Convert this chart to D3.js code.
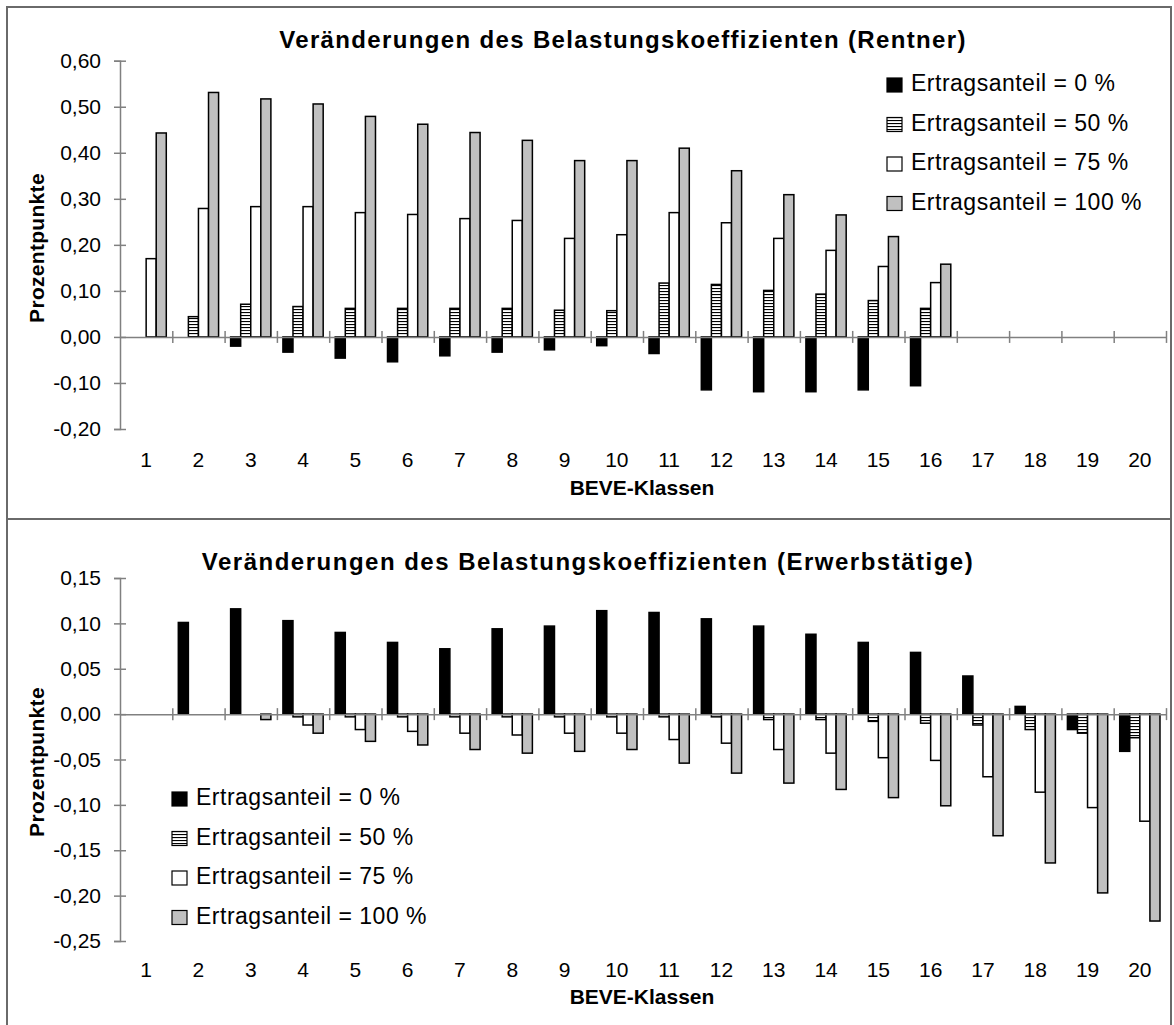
<!DOCTYPE html>
<html>
<head>
<meta charset="utf-8">
<script src="https://cdn.jsdelivr.net/npm/d3@7"></script>
<style>
  html, body { margin: 0; padding: 0; background: #fff; }
  svg { display: block; }
  text { font-family: "Liberation Sans", Arial, sans-serif; fill: #000; }
</style>
</head>
<body>
<svg id="chart" width="1174" height="1025"></svg>
<script>
// ---------- data ----------
const categories = ["1","2","3","4","5","6","7","8","9","10","11","12","13","14","15","16","17","18","19","20"];
const seriesNames = ["Ertragsanteil = 0 %", "Ertragsanteil = 50 %", "Ertragsanteil = 75 %", "Ertragsanteil = 100 %"];

// Rentner
const rentner0   = [0, 0, -0.020, -0.033, -0.046, -0.054, -0.041, -0.033, -0.028, -0.019, -0.036, -0.115, -0.119, -0.119, -0.115, -0.106, null, null, null, null];
const rentner50  = [0, 0.044, 0.071, 0.066, 0.062, 0.062, 0.062, 0.062, 0.058, 0.057, 0.117, 0.114, 0.101, 0.093, 0.079, 0.062, null, null, null, null];
const rentner75  = [0.170, 0.279, 0.283, 0.283, 0.270, 0.266, 0.257, 0.253, 0.214, 0.222, 0.270, 0.248, 0.214, 0.188, 0.153, 0.118, null, null, null, null];
const rentner100 = [0.443, 0.531, 0.517, 0.506, 0.479, 0.462, 0.444, 0.427, 0.383, 0.383, 0.410, 0.361, 0.309, 0.265, 0.218, 0.158, null, null, null, null];

// Erwerbstätige
const erwerb0   = [0, 0.101, 0.116, 0.103, 0.090, 0.079, 0.072, 0.094, 0.097, 0.114, 0.112, 0.105, 0.097, 0.088, 0.079, 0.068, 0.042, 0.0085, -0.017, -0.041];
const erwerb50  = [0, 0, 0, -0.003, -0.003, -0.003, -0.003, -0.003, -0.003, -0.003, -0.003, -0.003, -0.006, -0.006, -0.008, -0.010, -0.012, -0.017, -0.021, -0.026];
const erwerb75  = [0, 0, 0, -0.012, -0.017, -0.019, -0.021, -0.023, -0.021, -0.021, -0.028, -0.032, -0.039, -0.043, -0.048, -0.051, -0.069, -0.086, -0.103, -0.118];
const erwerb100 = [0, 0, -0.006, -0.021, -0.030, -0.034, -0.039, -0.043, -0.041, -0.039, -0.054, -0.065, -0.076, -0.083, -0.092, -0.101, -0.134, -0.164, -0.197, -0.228];

const rentnerTicks = [-0.2, -0.1, 0, 0.1, 0.2, 0.3, 0.4, 0.5, 0.6];
const erwerbTicks  = [-0.25, -0.2, -0.15, -0.1, -0.05, 0, 0.05, 0.1, 0.15];

const titleRentner = "Veränderungen des Belastungskoeffizienten (Rentner)";
const titleErwerb  = "Veränderungen des Belastungskoeffizienten (Erwerbstätige)";
const yTitle = "Prozentpunkte";
const xTitle = "BEVE-Klassen";

// ---------- setup ----------
const svg = d3.select("#chart");
const locale = d3.formatLocale({decimal: ",", thousands: ".", grouping: [3], currency: ["", "€"], minus: "-"});
const fmt = locale.format(".2f");

const defs = svg.append("defs");
const pat = defs.append("pattern").attr("id", "hstripe").attr("patternUnits", "userSpaceOnUse")
  .attr("width", 4).attr("height", 3);
pat.append("rect").attr("width", 4).attr("height", 3).attr("fill", "#fff");
pat.append("rect").attr("width", 4).attr("height", 1.1).attr("fill", "#000");

const fills = ["#000000", "url(#hstripe)", "#ffffff", "#c0c0c0"];
const AXIS = "#808080";

// chart-area borders
svg.append("rect").attr("x", 7).attr("y", 7).attr("width", 1164).attr("height", 512)
  .attr("fill", "none").attr("stroke", "#6a6a6a").attr("stroke-width", 2);
svg.append("rect").attr("x", 7).attr("y", 519).attr("width", 1164).attr("height", 520)
  .attr("fill", "none").attr("stroke", "#6a6a6a").attr("stroke-width", 2);

function drawChart(cfg) {
  const g = svg.append("g");
  const x0 = d3.scaleBand().domain(categories).range([cfg.left, cfg.right]).paddingInner(0.23).paddingOuter(0.115);
  const x1 = d3.scaleBand().domain(d3.range(4)).range([0, x0.bandwidth()]);
  const xb = d3.scaleLinear().domain([0, categories.length]).range([cfg.left, cfg.right]);
  const y = d3.scaleLinear().domain(cfg.domain).range([cfg.bottom, cfg.top]);

  // y axis with crossing ticks
  const ya = g.append("g").attr("transform", `translate(${cfg.left},0)`)
    .call(d3.axisLeft(y).tickValues(cfg.ticks).tickFormat(fmt).tickSize(6).tickPadding(13));
  ya.select(".domain").attr("stroke", AXIS).attr("stroke-width", 1.5);
  ya.selectAll(".tick line").attr("x1", 6).attr("x2", -6).attr("stroke", AXIS).attr("stroke-width", 1.5);
  ya.selectAll(".tick text").attr("font-size", 21).attr("font-family", "Liberation Sans, Arial, sans-serif").attr("fill", "#000");

  // bars
  const series = cfg.series;
  series.forEach((vals, si) => {
    g.append("g").selectAll("rect")
      .data(vals.map((v, i) => ({v, c: categories[i]})).filter(d => d.v !== null && d.v !== 0))
      .join("rect")
      .attr("x", d => x0(d.c) + x1(si))
      .attr("width", x1.bandwidth())
      .attr("y", d => y(Math.max(0, d.v)))
      .attr("height", d => Math.abs(y(d.v) - y(0)))
      .attr("fill", fills[si])
      .attr("stroke", "#000").attr("stroke-width", 1.5);
  });

  // x axis line at zero with crossing tick marks at category boundaries
  const xa = g.append("g").attr("transform", `translate(0,${y(0)})`)
    .call(d3.axisBottom(xb).tickValues(d3.range(1, categories.length + 1)).tickFormat("").tickSize(6).tickSizeOuter(0));
  xa.select(".domain").attr("stroke", AXIS).attr("stroke-width", 1.5);
  xa.selectAll(".tick line").attr("y1", -6).attr("y2", 6).attr("stroke", AXIS).attr("stroke-width", 1.5);

  // category labels below plot
  const xl = g.append("g").attr("transform", `translate(0,${cfg.bottom})`)
    .call(d3.axisBottom(x0).tickSize(0).tickPadding(cfg.labelPad));
  xl.select(".domain").remove();
  xl.selectAll(".tick text").attr("font-size", 21).attr("font-family", "Liberation Sans, Arial, sans-serif").attr("fill", "#000");

  // titles
  g.append("text").attr("x", cfg.titleX).attr("y", cfg.titleY).attr("text-anchor", "middle")
    .attr("font-size", 24).attr("font-weight", "bold").attr("letter-spacing", cfg.titleLs).text(cfg.title);
  g.append("text").attr("x", 642).attr("y", cfg.xTitleY).attr("text-anchor", "middle")
    .attr("font-size", 21).attr("font-weight", "bold").text(xTitle);
  g.append("text").attr("transform", `translate(44,${cfg.yTitleY}) rotate(-90)`).attr("text-anchor", "middle")
    .attr("font-size", 21).attr("font-weight", "bold").attr("letter-spacing", 0.3).text(yTitle);

  // legend
  const lg = g.append("g");
  seriesNames.forEach((name, si) => {
    const by = cfg.legY + si * 39.5;
    lg.append("rect").attr("x", cfg.legX).attr("y", by - 13).attr("width", 15).attr("height", 14)
      .attr("fill", fills[si]).attr("stroke", "#000").attr("stroke-width", 1.2);
    lg.append("text").attr("x", cfg.legX + 24).attr("y", by).attr("font-size", 23)
      .attr("letter-spacing", 0.5).text(name);
  });
}

drawChart({
  left: 120, right: 1166, top: 60.7, bottom: 429, domain: [-0.2, 0.6], ticks: rentnerTicks,
  series: [rentner0, rentner50, rentner75, rentner100],
  labelPad: 23, title: titleRentner, titleX: 623, titleY: 48, titleLs: 1.35, xTitleY: 494.5, yTitleY: 248,
  legX: 887, legY: 91
});

drawChart({
  left: 120, right: 1166, top: 578, bottom: 941, domain: [-0.25, 0.15], ticks: erwerbTicks,
  series: [erwerb0, erwerb50, erwerb75, erwerb100],
  labelPad: 21, title: titleErwerb, titleX: 588, titleY: 570, titleLs: 1.5, xTitleY: 1004, yTitleY: 762,
  legX: 172, legY: 805
});
</script>
</body>
</html>
